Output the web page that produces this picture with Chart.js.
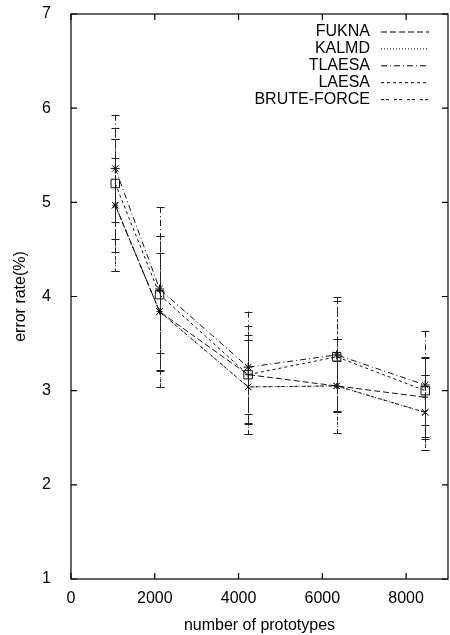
<!DOCTYPE html>
<html>
<head>
<meta charset="utf-8">
<script src="https://cdn.jsdelivr.net/npm/chart.js@4/dist/chart.umd.min.js"></script>
<style>
  html, body { margin: 0; padding: 0; background: #fff; }
  #wrap { width: 450px; height: 635px; }
</style>
</head>
<body>
<div id="wrap"><canvas id="errChart" width="450" height="635"></canvas></div>
<script>
// number of prototypes
const prototypes = [1057, 2114, 4228, 6342, 8456];

// error rate (%) per algorithm
const fukna  = [4.97, 3.84, 3.17, 3.05, 2.93];
const kalmd  = [4.97, 3.84, 3.04, 3.05, 2.77];
const tlaesa = [5.36, 4.08, 3.25, 3.38, 3.06];
const laesa  = [5.20, 4.02, 3.17, 3.36, 3.00];
const brute  = [4.97, 3.84, 3.04, 3.05, 2.77];

// half-width of the error bars
const fuknaErr  = [0.50, 0.62, 0.42, 0.27, 0.42];
const kalmdErr  = [0.70, 0.80, 0.50, 0.50, 0.40];
const tlaesaErr = [0.57, 0.87, 0.59, 0.61, 0.57];
const laesaErr  = [0.59, 0.62, 0.52, 0.59, 0.36];
const bruteErr  = [0.70, 0.80, 0.50, 0.50, 0.40];

const xTicks = [0, 2000, 4000, 6000, 8000];
const yTicks = [1, 2, 3, 4, 5, 6, 7];

const FONT = "'Liberation Sans', Arial, Helvetica, sans-serif";

const series = [
  { label: "FUKNA",       values: fukna,  err: fuknaErr,  dash: [6, 3],       point: "cross" },
  { label: "KALMD",       values: kalmd,  err: kalmdErr,  dash: [1, 2],       point: "crossRot" },
  { label: "TLAESA",      values: tlaesa, err: tlaesaErr, dash: [6, 3, 1, 3], point: "star" },
  { label: "LAESA",       values: laesa,  err: laesaErr,  dash: [3, 3],       point: "rect" },
  { label: "BRUTE-FORCE", values: brute,  err: bruteErr,  dash: [3, 2, 3, 5], point: "crossRot" }
];

// error bars, drawn through the chart scales
const errorBars = {
  id: "errorBars",
  beforeDatasetsDraw(chart) {
    const { ctx, scales: { x, y } } = chart;
    ctx.save();
    ctx.strokeStyle = "#222";
    ctx.lineWidth = 1;
    series.forEach(s => {
      ctx.setLineDash(s.dash);
      s.values.forEach((v, j) => {
        const px = Math.round(x.getPixelForValue(prototypes[j])) + 0.5;
        const top = y.getPixelForValue(v + s.err[j]);
        const bot = y.getPixelForValue(v - s.err[j]);
        ctx.beginPath();
        ctx.moveTo(px, top);
        ctx.lineTo(px, bot);
        ctx.stroke();
        ctx.setLineDash([]);
        ctx.beginPath();
        ctx.moveTo(px - 4, Math.round(top) + 0.5);
        ctx.lineTo(px + 4, Math.round(top) + 0.5);
        ctx.moveTo(px - 4, Math.round(bot) + 0.5);
        ctx.lineTo(px + 4, Math.round(bot) + 0.5);
        ctx.stroke();
        ctx.setLineDash(s.dash);
      });
    });
    ctx.restore();
  }
};

// gnuplot style frame with inward ticks, and the key
const frame = {
  id: "frame",
  afterDraw(chart) {
    const { ctx, chartArea: a, scales: { x, y } } = chart;
    ctx.save();
    ctx.strokeStyle = "#000";
    ctx.lineWidth = 1.2;
    ctx.setLineDash([]);
    ctx.strokeRect(a.left, a.top, a.right - a.left, a.bottom - a.top);
    const t = 6;
    ctx.beginPath();
    xTicks.forEach(v => {
      const px = x.getPixelForValue(v);
      ctx.moveTo(px, a.bottom); ctx.lineTo(px, a.bottom - t);
      ctx.moveTo(px, a.top); ctx.lineTo(px, a.top + t);
    });
    yTicks.forEach(v => {
      const py = y.getPixelForValue(v);
      ctx.moveTo(a.left, py); ctx.lineTo(a.left + t, py);
      ctx.moveTo(a.right, py); ctx.lineTo(a.right - t, py);
    });
    ctx.stroke();

    // key
    ctx.font = "16px " + FONT;
    ctx.fillStyle = "#000";
    ctx.textAlign = "right";
    ctx.textBaseline = "middle";
    ctx.lineWidth = 1;
    series.forEach((s, i) => {
      const ry = a.top + 17.5 + i * 16.9;
      ctx.fillText(s.label, 370, ry);
      ctx.setLineDash(s.dash);
      ctx.beginPath();
      ctx.moveTo(381, ry + 0.5);
      ctx.lineTo(429, ry + 0.5);
      ctx.stroke();
    });
    ctx.restore();
  }
};

new Chart(document.getElementById("errChart"), {
  type: "line",
  data: {
    datasets: series.map(s => ({
      label: s.label,
      data: prototypes.map((p, j) => ({ x: p, y: s.values[j] })),
      borderColor: "#111",
      borderWidth: 1,
      borderDash: s.dash,
      backgroundColor: "transparent",
      fill: false,
      tension: 0,
      pointStyle: s.point,
      pointRadius: s.point === "rect" ? 6 : (s.point === "cross" ? 3 : 4.5),
      pointBorderColor: "#111",
      pointBackgroundColor: "transparent",
      pointBorderWidth: 1
    }))
  },
  options: {
    responsive: false,
    animation: false,
    layout: { autoPadding: false, padding: { top: 14, right: 2, left: 0, bottom: 0 } },
    plugins: {
      legend: { display: false },
      tooltip: { enabled: false }
    },
    scales: {
      x: {
        type: "linear",
        min: 0,
        max: 9000,
        grid: { display: false },
        border: { display: false },
        afterBuildTicks: axis => { axis.ticks = xTicks.map(v => ({ value: v })); },
        afterFit: axis => {
          axis.height = 56;
          axis.paddingLeft = 0;
          axis.paddingRight = 0;
        },
        ticks: {
          color: "#000",
          padding: 2,
          maxRotation: 0,
          font: { size: 16, family: FONT },
          callback: v => String(v)
        },
        title: {
          display: true,
          text: "number of prototypes",
          color: "#000",
          padding: { top: 11, bottom: 0 },
          font: { size: 16, family: FONT }
        }
      },
      y: {
        min: 1,
        max: 7,
        grid: { display: false },
        border: { display: false },
        afterBuildTicks: axis => { axis.ticks = yTicks.map(v => ({ value: v })); },
        afterFit: axis => {
          axis.width = 71;
          axis.paddingTop = 0;
          axis.paddingBottom = 0;
        },
        ticks: { color: "#000", padding: 12, font: { size: 16, family: FONT } },
        title: {
          display: true,
          text: "error rate(%)",
          color: "#000",
          padding: { top: 11, bottom: 0 },
          font: { size: 16, family: FONT }
        }
      }
    }
  },
  plugins: [errorBars, frame]
});
</script>
</body>
</html>
